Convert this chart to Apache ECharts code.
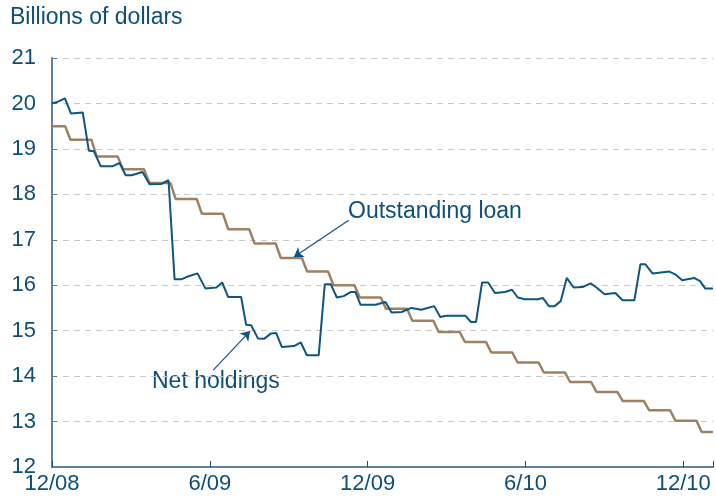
<!DOCTYPE html>
<html><head><meta charset="utf-8">
<script src="https://cdn.jsdelivr.net/npm/echarts@6/dist/echarts.min.js"></script>
<style>html,body{margin:0;padding:0;background:#fff}#c{width:716px;height:504px}</style>
</head><body><div id="c"></div>
<script>
// months since Dec 2008
var holdX=[0,.23,.49,.72,1.17,1.40,1.59,1.85,2.31,2.57,2.80,3.03,3.44,3.71,4.16,4.43,4.66,4.92,5.11,5.53,5.83,6.25,6.47,6.70,7.19,7.38,7.57,7.83,8.06,8.33,8.52,8.74,9.20,9.46,9.69,10.14,10.37,10.60,10.83,11.09,11.35,11.54,11.73,12.15,12.30,12.68,12.91,13.29,13.66,14.04,14.53,14.76,14.99,15.71,15.93,16.12,16.35,16.58,16.84,17.22,17.49,17.71,17.98,18.47,18.66,18.89,19.11,19.34,19.57,19.83,20.17,20.48,20.70,21.01,21.42,21.69,22.14,22.37,22.56,22.83,23.47,23.69,23.96,24.41,24.64,24.83,25.13];
var holdY=[20.0,20.04,20.11,19.78,19.8,18.96,18.95,18.62,18.62,18.69,18.42,18.42,18.49,18.22,18.23,18.31,16.13,16.13,16.18,16.26,15.93,15.95,16.06,15.74,15.74,15.13,15.12,14.83,14.82,14.94,14.95,14.64,14.66,14.74,14.46,14.46,16.02,16.02,15.73,15.76,15.85,15.85,15.57,15.57,15.57,15.63,15.4,15.41,15.5,15.46,15.54,15.3,15.33,15.33,15.19,15.19,16.06,16.06,15.83,15.85,15.9,15.73,15.69,15.69,15.72,15.54,15.54,15.65,16.16,15.95,15.96,16.04,15.95,15.8,15.83,15.67,15.67,16.46,16.46,16.26,16.3,16.24,16.11,16.16,16.09,15.93,15.93];
// monthly loan balance levels
var loanLevels=[19.5,19.2,18.83,18.55,18.25,17.9,17.57,17.23,16.92,16.6,16.3,16.0,15.73,15.48,15.22,14.97,14.75,14.52,14.3,14.08,13.87,13.65,13.45,13.25,13.02,12.77];
var tickLabels=['12/08','6/09','12/09','6/10','12/10'];
var xMax=25.13;

var holdings=holdX.map(function(x,i){return [x,holdY[i]];});
var loan=[];
loanLevels.forEach(function(v,k){
  loan.push([k===0?0:k-0.3,v]);
  loan.push([Math.min(k+0.5,xMax),v]);
});

var ink='#0e4f7a';
var txt={fontFamily:'Liberation Sans, Arial',fontSize:22,color:ink};
var chart=echarts.init(document.getElementById('c'));
chart.setOption({
  animation:false,
  grid:{left:52,right:0,top:58,bottom:37},
  xAxis:{type:'value',min:0,max:xMax,interval:6,
    axisLine:{lineStyle:{color:'#5f8199',width:2}},
    axisTick:{show:true,inside:true,length:6,lineStyle:{color:ink}},
    splitLine:{show:false},
    axisLabel:Object.assign({margin:6,formatter:function(v){return tickLabels[v/6]||'';}},txt)},
  yAxis:{type:'value',min:12,max:21,interval:1,
    axisLine:{show:true,lineStyle:{color:'#5f8199',width:2}},
    axisTick:{show:true,inside:true,length:5,lineStyle:{color:'#5f8199'}},
    splitLine:{lineStyle:{color:'#c8c8c8',type:[6,5]}},
    axisLabel:Object.assign({margin:16},txt)},
  graphic:[
    {type:'text',left:10,top:6,style:{text:'Billions of dollars',font:'23px Liberation Sans, Arial',fill:ink}},
    {type:'text',left:348,top:200,style:{text:'Outstanding loan',font:'23px Liberation Sans, Arial',fill:ink}},
    {type:'text',left:152,top:370,style:{text:'Net holdings',font:'23px Liberation Sans, Arial',fill:ink}}
  ],
  series:[
    {type:'line',data:loan,symbol:'none',lineStyle:{color:'#9e8163',width:2.5},z:2},
    {type:'line',data:holdings,symbol:'none',lineStyle:{color:'#0f5581',width:2},z:3,
      markLine:{silent:true,symbol:['none','arrow'],symbolSize:9,label:{show:false},
        lineStyle:{color:'#0f5581',width:1.2,type:'solid'},
        data:[[{coord:[11.28,17.43]},{coord:[9.2,16.62]}],
              [{coord:[6.13,14.13]},{coord:[7.53,14.99]}]]}}
  ]
});
</script></body></html>
